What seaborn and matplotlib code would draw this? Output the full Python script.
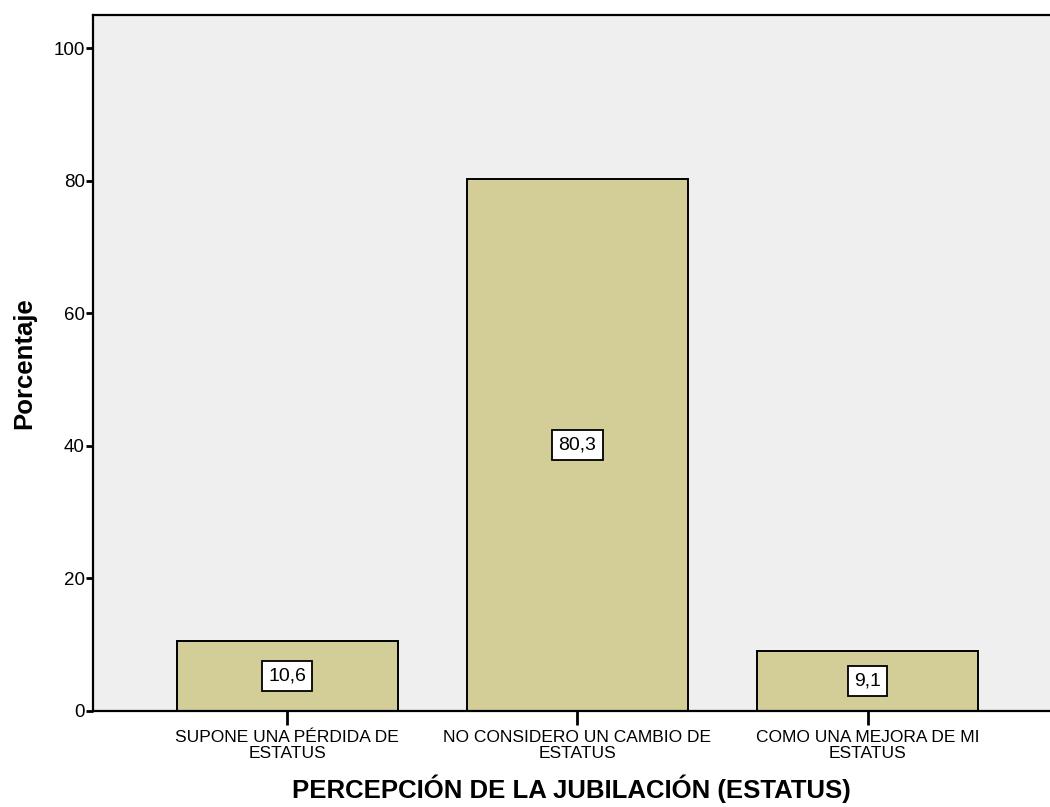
import numpy as np
import pandas as pd
import matplotlib
import matplotlib.pyplot as plt
import seaborn as sns

matplotlib.use('agg')

categorias = ["SUPONE UNA PÉRDIDA DE\nESTATUS",
              "NO CONSIDERO UN CAMBIO DE\nESTATUS",
              "COMO UNA MEJORA DE MI\nESTATUS"]
porcentajes = [10.6, 80.3, 9.1]
etiquetas = ["10,6", "80,3", "9,1"]

sns.set_style("white")
plt.rcParams['font.family'] = ['Liberation Sans', 'DejaVu Sans']
plt.rcParams['text.color'] = 'black'
plt.rcParams['axes.labelcolor'] = 'black'
plt.rcParams['xtick.color'] = 'black'
plt.rcParams['ytick.color'] = 'black'

df = pd.DataFrame({"cat": categorias, "pct": porcentajes})

fig = plt.figure(figsize=(10.5, 8.07), dpi=100)
ax = fig.add_axes([0.0886, 0.119, 0.9114, 0.8625])
ax.set_facecolor("#efefef")

sns.barplot(data=df, x="cat", y="pct", color="#d3ce97", width=0.76,
            edgecolor="black", linewidth=1.4, saturation=1, ax=ax)

for i, (v, lab) in enumerate(zip(porcentajes, etiquetas)):
    ax.text(i, v / 2, lab, ha="center", va="center", fontsize=14,
            bbox=dict(boxstyle="square,pad=0.32", fc="white", ec="black", lw=1.3))

ax.set_ylim(0, 105)
ax.set_xlim(-0.669, 2.628)
ax.set_yticks([0, 20, 40, 60, 80, 100])
ax.tick_params(axis="y", labelsize=13.5, length=5, width=2, direction="out", left=True, pad=1)
ax.tick_params(axis="x", labelsize=12.5, length=10, width=2, direction="out", bottom=True, pad=4)
for t in ax.get_xticklabels():
    t.set_linespacing(1.05)

for s in ["left", "top", "bottom"]:
    ax.spines[s].set_color("black")
    ax.spines[s].set_linewidth(1.6)
ax.spines["right"].set_visible(False)

ax.set_ylabel("Porcentaje", fontsize=18.5, fontweight="bold", labelpad=12)
ax.set_xlabel("PERCEPCIÓN DE LA JUBILACIÓN (ESTATUS)", fontsize=18.5, fontweight="bold", labelpad=10)

fig.savefig("out.png", dpi=100)
plt.close()
